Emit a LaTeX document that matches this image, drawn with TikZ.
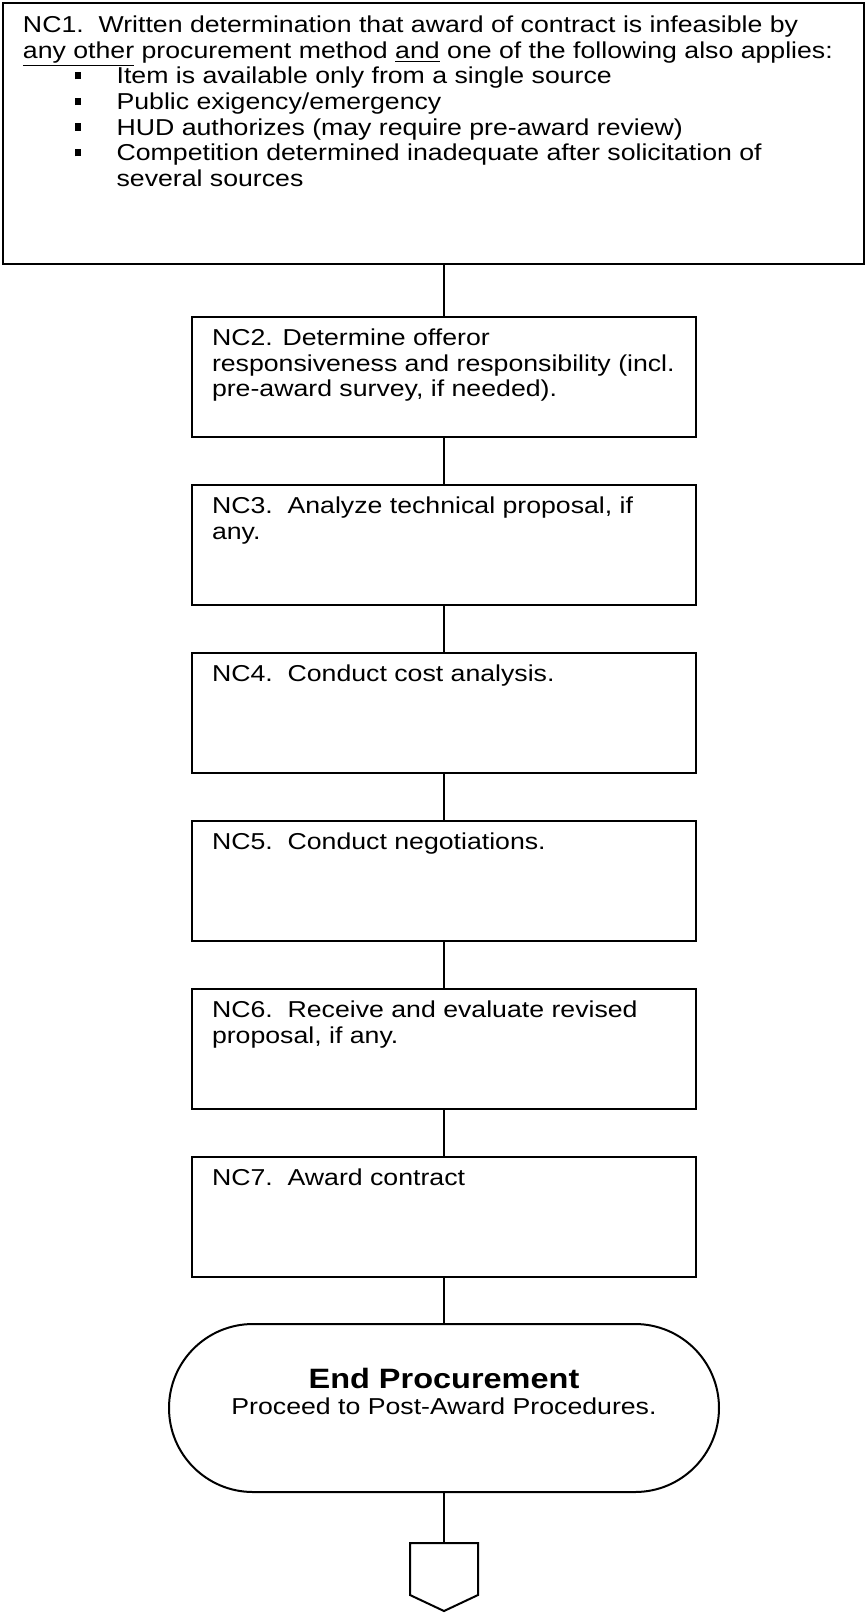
\documentclass[tikz,border=0pt]{standalone}
\usepackage{fontspec}
\setmainfont{Liberation Sans}[FakeStretch=1.16]
\usetikzlibrary{positioning}
\tikzset{stepbox/.style = {shape=rectangle,draw,line width=1pt,inner xsep=10pt,inner ysep=6pt,anchor=north}}
\tikzset{edge/.style = {line width=0.7pt}}
\newcommand{\sqbul}{\hspace*{26pt}\makebox[20.8pt][l]{\raisebox{2.2pt}{\rule{3pt}{3.6pt}}}}
\newcommand{\steptext}[1]{\parbox[t][48pt][t]{232pt}{\raggedright #1}}

\begin{document}
\begin{tikzpicture}[x=0.5pt,y=-0.5pt]
		\fontsize{11.5}{12.8}\selectfont
		\useasboundingbox (0,0) rectangle (866,1614);
		% steps
		\node[stepbox,inner ysep=6.5pt] (nc1) at (433.5,2) {\parbox[t][117.5pt][t]{410.5pt}{\raggedright
			NC1.\ \ Written determination that award of contract is infeasible by\\
			\underline{any other} procurement method \underline{and} one of the following also applies:\\
			\sqbul Item is available only from a single source\\
			\sqbul Public exigency/emergency\\
			\sqbul HUD authorizes (may require pre-award review)\\
			\sqbul Competition determined inadequate after solicitation of\\
			\hspace*{46.8pt}several sources}};
		\node[stepbox] (nc2) at (444,316)  {\steptext{NC2. Determine offeror\\ responsiveness and responsibility (incl.\\ pre-award survey, if needed).}};
		\node[stepbox] (nc3) at (444,484)  {\steptext{NC3.\ \ Analyze technical proposal, if\\ any.}};
		\node[stepbox] (nc4) at (444,652)  {\steptext{NC4.\ \ Conduct cost analysis.}};
		\node[stepbox] (nc5) at (444,820)  {\steptext{NC5.\ \ Conduct negotiations.}};
		\node[stepbox] (nc6) at (444,988)  {\steptext{NC6.\ \ Receive and evaluate revised\\ proposal, if any.}};
		\node[stepbox] (nc7) at (444,1156) {\steptext{NC7.\ \ Award contract}};
		\node[draw,line width=1pt,rounded corners=42pt,minimum width=275pt,minimum height=84pt,align=center] (endproc) at (444,1408)
			{{\fontsize{14}{16}\selectfont\bfseries End Procurement}\\ Proceed to Post-Award Procedures.\\ \strut};
		\coordinate (offpage) at (444,1543);
		\draw[line width=1pt] (offpage) ++(-34,0) -- ++(0,52) -- ++(34,16) -- ++(34,-16) -- ++(0,-52) -- cycle;
		%edges
		\draw[edge] (nc2.north) -- (nc2.north |- nc1.south);
		\draw[edge] (nc2) -- (nc3);
		\draw[edge] (nc3) -- (nc4);
		\draw[edge] (nc4) -- (nc5);
		\draw[edge] (nc5) -- (nc6);
		\draw[edge] (nc6) -- (nc7);
		\draw[edge] (nc7) -- (endproc);
		\draw[edge] (endproc) -- (offpage);
	\end{tikzpicture}
\end{document}
